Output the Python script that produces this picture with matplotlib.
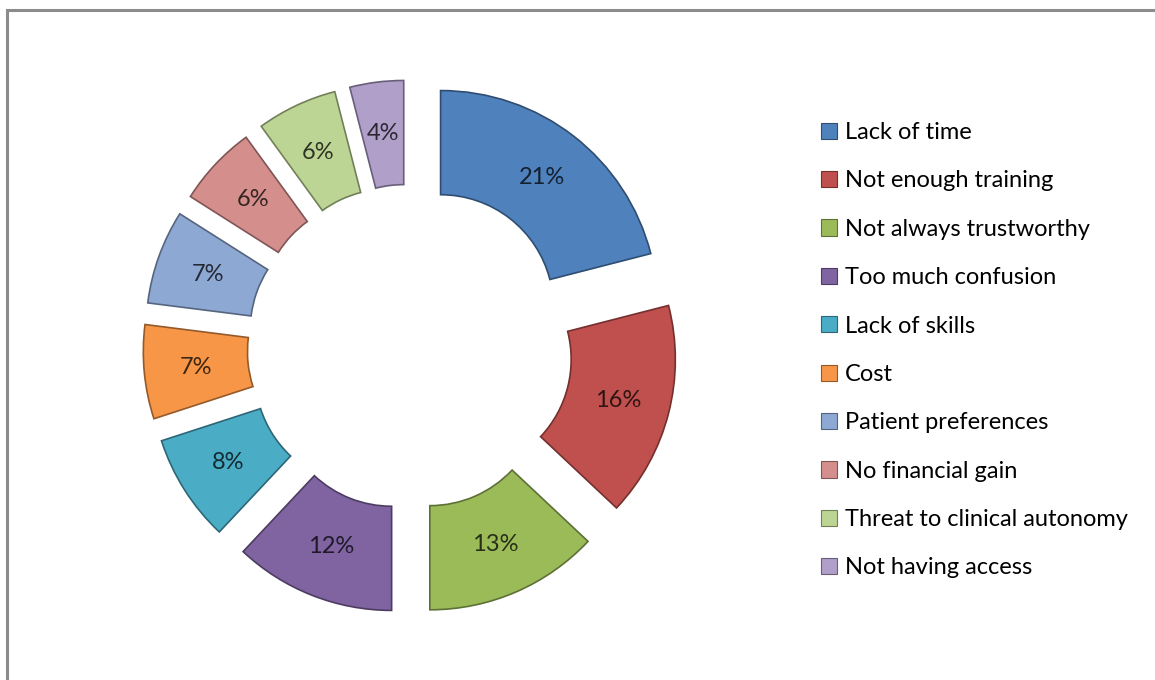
import matplotlib.pyplot as plt
import matplotlib.colors as mcolors
from matplotlib.patches import Rectangle, Patch

reasons = ['Lack of time', 'Not enough training', 'Not always trustworthy',
           'Too much confusion', 'Lack of skills', 'Cost', 'Patient preferences',
           'No financial gain', 'Threat to clinical autonomy', 'Not having access']
shares = [21, 16, 13, 12, 8, 7, 7, 6, 6, 4]
colors = ['#4F81BD', '#C0504D', '#9BBB59', '#8064A2', '#4BACC6',
          '#F79646', '#8EA8D4', '#D48F8D', '#BDD594', '#AF9FC9']

W, H = 1155, 680
fig = plt.figure(figsize=(W / 100, H / 100), dpi=100)
fig.patch.set_facecolor('white')

# outer frame (only top and left edges fall inside the image)
fig.patches.append(Rectangle((7 / W, -0.05), 1.2, (H - 10) / H + 0.05,
                             transform=fig.transFigure, fill=False,
                             edgecolor='#8C8C8C', linewidth=2.2))

# pie axes: centre at (410, 347) px, radius 217 px
R = 217
half = 300
cx, cy = 410, 347
ax = fig.add_axes([(cx - half) / W, (H - cy - half) / H, 2 * half / W, 2 * half / H])
ax.set_aspect('equal')
ax.axis('off')

edge_cols = [tuple(c * 0.6 for c in mcolors.to_rgb(col)) for col in colors]
wedges, texts, autotexts = ax.pie(
    shares, colors=colors, startangle=90, counterclock=False,
    explode=[0.23] * len(shares), radius=1.0,
    wedgeprops=dict(width=0.48), autopct='%d%%', pctdistance=0.76,
    textprops=dict(fontsize=17, family='Lato'))
for w, ec in zip(wedges, edge_cols):
    w.set_edgecolor(ec)
    w.set_linewidth(1.2)
for t, col in zip(autotexts, colors):
    t.set_color(tuple(c * 0.25 for c in mcolors.to_rgb(col)))
ax.set_xlim(-half / R, half / R)
ax.set_ylim(-half / R, half / R)

handles = [Patch(facecolor=c, edgecolor=ec, linewidth=0.8) for c, ec in zip(colors, edge_cols)]
fig.legend(handles, reasons, loc='upper left', bbox_to_anchor=(821 / W, 1 - 122 / H),
           frameon=False, prop=dict(family='Lato', size=17),
           handlelength=0.68, handleheight=0.68, handletextpad=0.34,
           labelspacing=1.16, borderpad=0, borderaxespad=0)

fig.savefig('out.png', dpi=100, facecolor='white')
